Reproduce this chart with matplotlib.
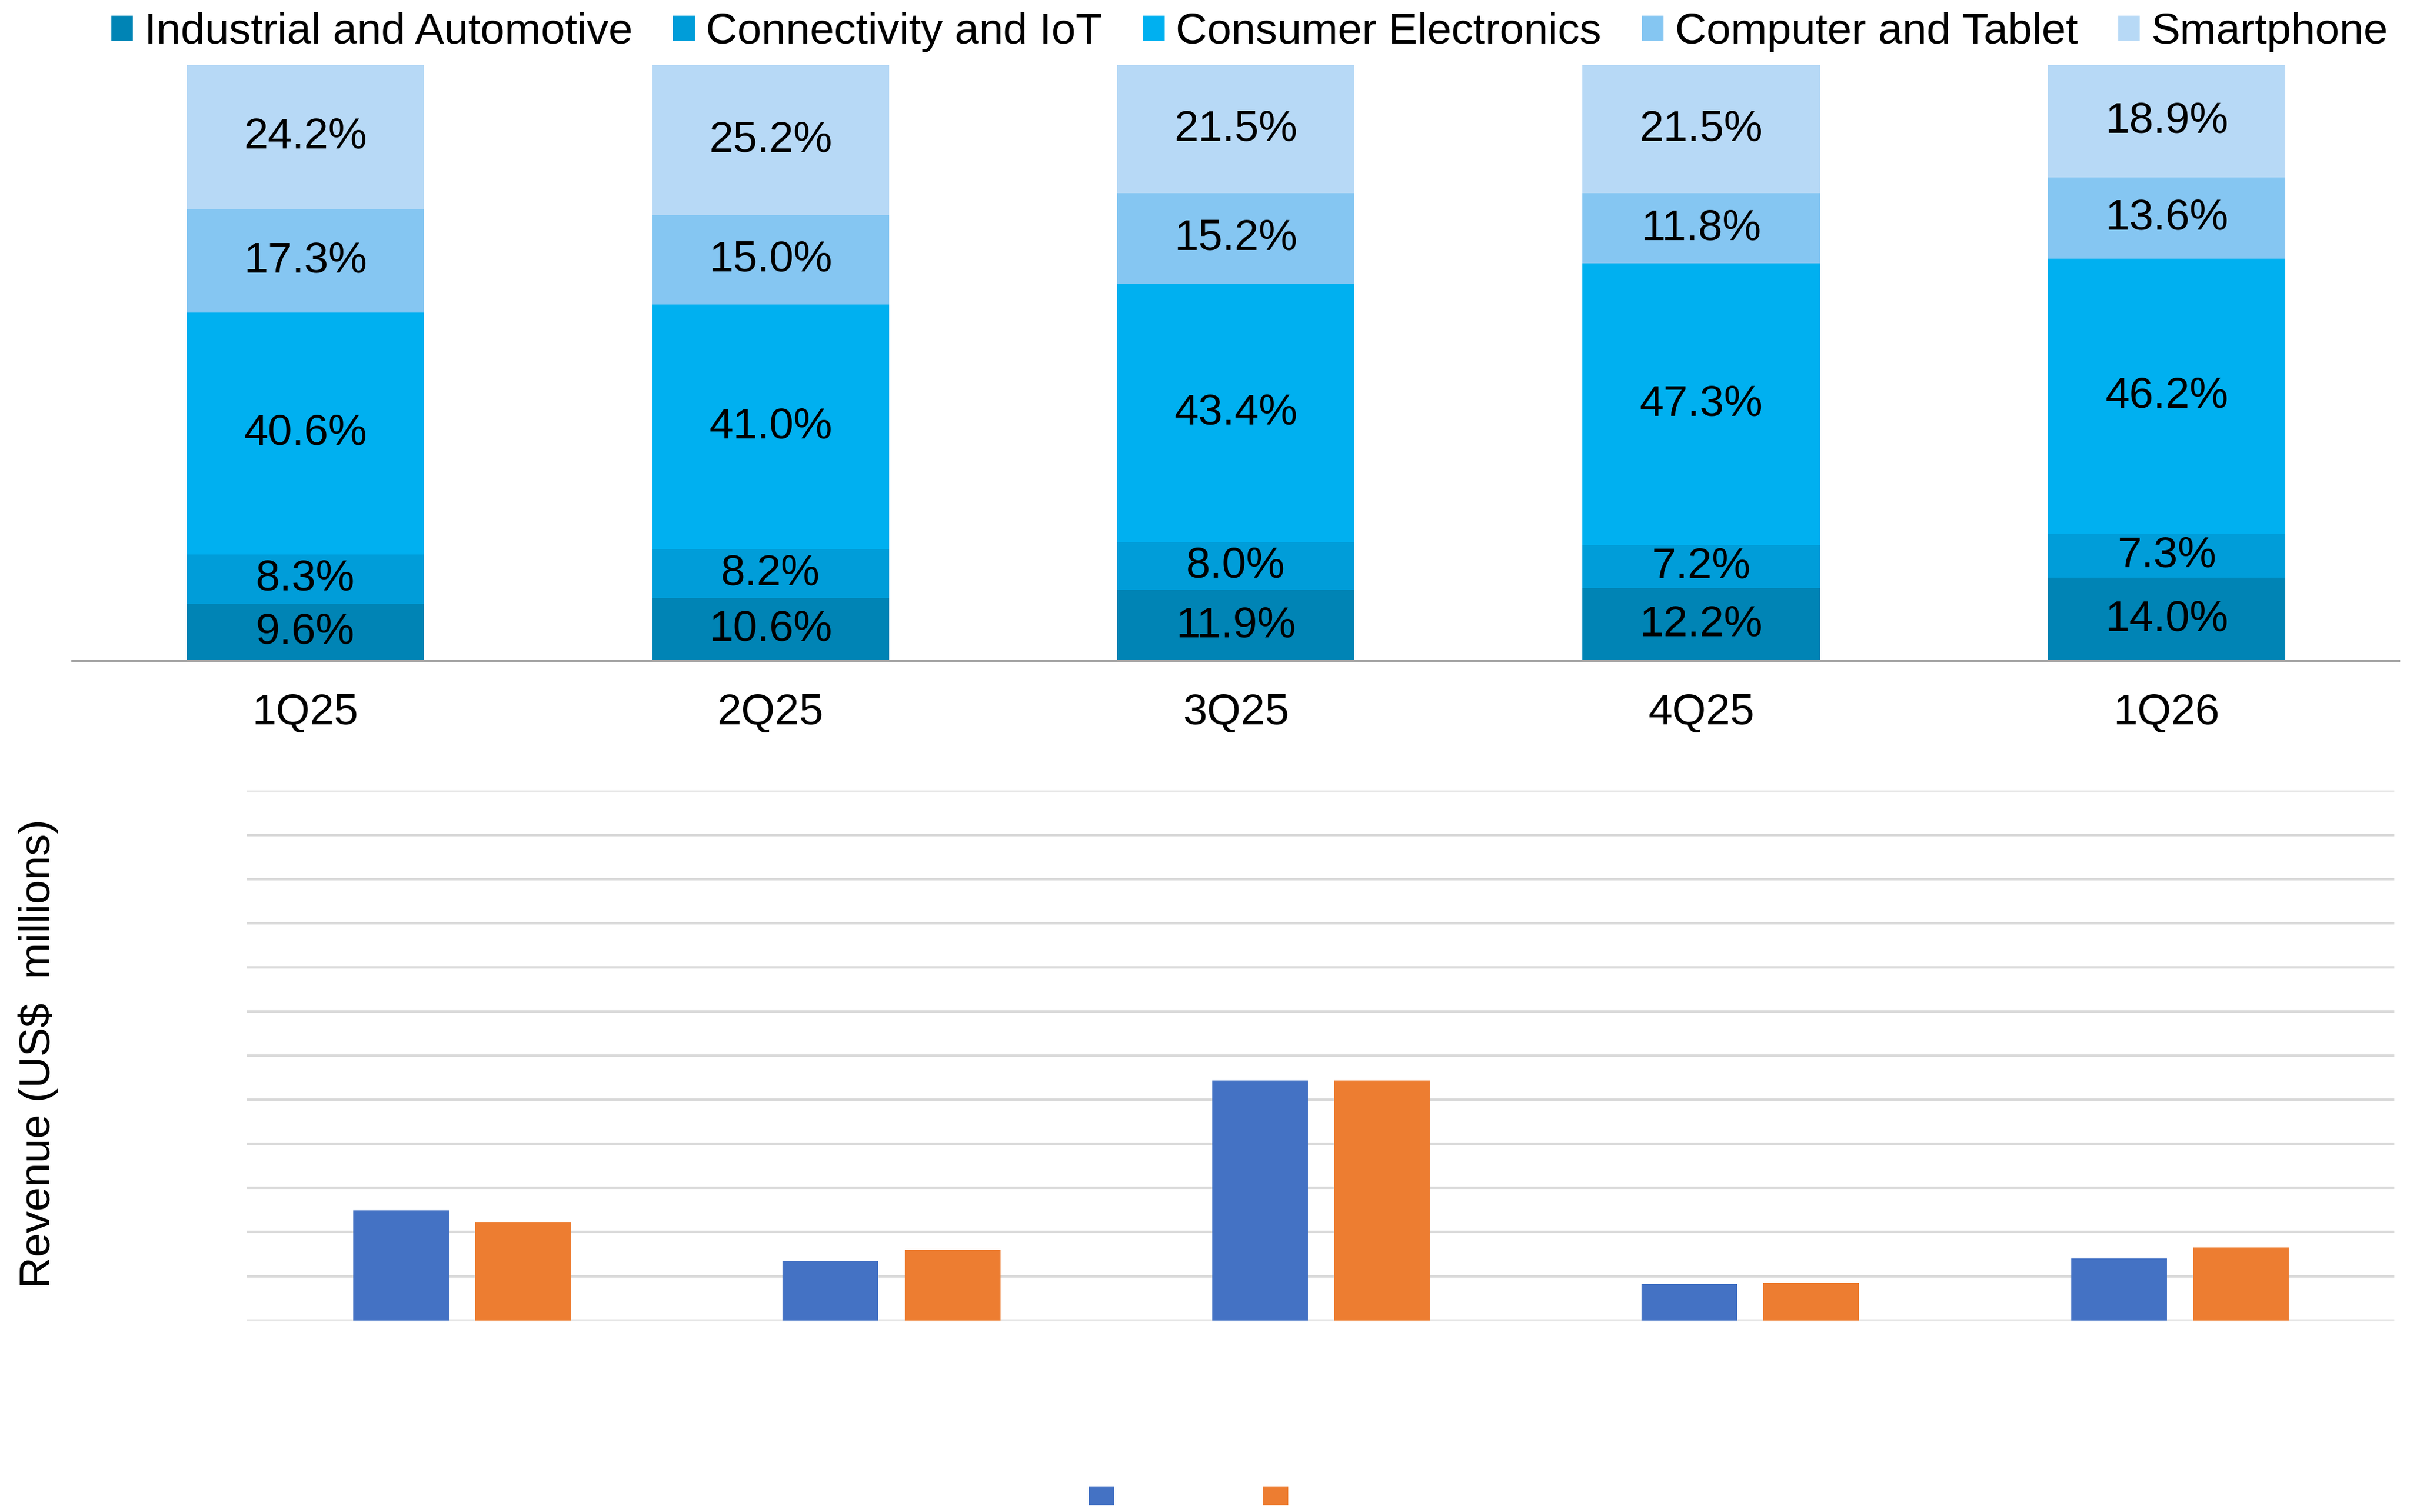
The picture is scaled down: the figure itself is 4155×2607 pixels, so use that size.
import matplotlib.pyplot as plt
import numpy as np
from matplotlib.patches import Patch

plt.rcParams['font.family'] = ['Liberation Sans', 'DejaVu Sans']

# Données
quarters = ['1Q25', '2Q25', '3Q25', '4Q25', '1Q26']
segments = ['Industrial and Automotive', 'Connectivity and IoT', 'Consumer Electronics',
            'Computer and Tablet', 'Smartphone']
industrial = [9.6, 10.6, 11.9, 12.2, 14.0]
connectivity = [8.3, 8.2, 8.0, 7.2, 7.3]
consumer = [40.6, 41.0, 43.4, 47.3, 46.2]
computer = [17.3, 15.0, 15.2, 11.8, 13.6]
smartphone = [24.2, 25.2, 21.5, 21.5, 18.9]

revenue_a = [24.9, 13.5, 54.4, 8.3, 14.0]
revenue_b = [22.3, 16.0, 54.3, 8.5, 16.5]

seg_colors = ['#0084B5', '#009DD9', '#00B0F0', '#85C6F2', '#B7D9F6']
fs = 54

fig = plt.figure(figsize=(41.55, 26.07), dpi=100)

# Graphique du haut : répartition en %
ax1 = fig.add_axes([0.0301, 0.5628, 0.9654, 0.3942])
x = np.arange(len(quarters))
bottom = np.zeros(len(quarters))
for vals, col, name in zip([industrial, connectivity, consumer, computer, smartphone], seg_colors, segments):
    vals = np.array(vals)
    ax1.bar(x, vals, 0.51, bottom=bottom, color=col, label=name)
    for xi, b, v in zip(x, bottom, vals):
        ax1.text(xi, b + v / 2, f'{v:.1f}%', ha='center', va='center', fontsize=fs, color='black')
    bottom += vals

ax1.set_xlim(-0.5, 4.5)
ax1.set_ylim(0, 100)
ax1.set_xticks(x)
ax1.set_xticklabels(quarters, fontsize=fs)
ax1.tick_params(axis='x', length=0, pad=40)
ax1.set_yticks([])
for s in ['top', 'right', 'left']:
    ax1.spines[s].set_visible(False)
ax1.spines['bottom'].set_color('#A6A6A6')
ax1.spines['bottom'].set_linewidth(3)

handles = [Patch(facecolor=c) for c in seg_colors]
fig.legend(handles, segments, loc='center', bbox_to_anchor=(0.5186, 0.9788), ncol=5,
           frameon=False, fontsize=fs, handlelength=0.5, handleheight=0.5,
           handletextpad=0.26, columnspacing=0.93, borderpad=0, borderaxespad=0)

# Graphique du bas : revenus
ax2 = fig.add_axes([0.1026, 0.1267, 0.891, 0.3503])
w = 0.223
ax2.bar(x - 0.142, revenue_a, w, color='#4472C4', zorder=3)
ax2.bar(x + 0.142, revenue_b, w, color='#ED7D31', zorder=3)
ax2.set_xlim(-0.5, 4.5)
ax2.set_ylim(0, 120)
ax2.set_yticks(np.arange(0, 121, 10))
ax2.set_yticklabels([])
ax2.set_xticks([])
ax2.tick_params(axis='y', length=0)
ax2.grid(axis='y', color='#D9D9D9', linewidth=3, zorder=0)
for s in ['top', 'right', 'left', 'bottom']:
    ax2.spines[s].set_visible(False)

fig.text(0.016, 0.303, 'Revenue (US$  millions)', rotation=90, ha='center', va='center', fontsize=fs)

h2 = [Patch(facecolor='#4472C4'), Patch(facecolor='#ED7D31')]
fig.legend(h2, ['', ''], loc='upper center', bbox_to_anchor=(0.4932, 0.0169), ncol=2,
           frameon=False, fontsize=10, handlelength=3.17, handleheight=3.17,
           handletextpad=0, columnspacing=18.4, borderpad=0, borderaxespad=0)

fig.savefig('out.png', dpi=100, facecolor='white')
